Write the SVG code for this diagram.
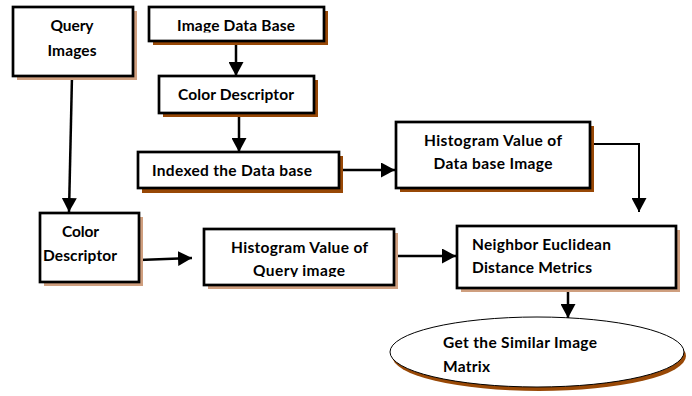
<svg xmlns="http://www.w3.org/2000/svg" width="692" height="396" viewBox="0 0 692 396">
  <defs>
    <marker id="arrow" viewBox="0 0 14 15" refX="14" refY="7.5" markerWidth="14" markerHeight="15" markerUnits="userSpaceOnUse" orient="auto">
      <path d="M0,0 L14,7.5 L0,15 Z" fill="#000"/>
    </marker>
    <clipPath id="clipQueryHist"><rect x="204" y="229" width="190" height="48"/></clipPath>
    <clipPath id="clipImgDb"><rect x="149" y="7" width="175" height="25.5"/></clipPath>
  </defs>
  <style>
    .box { fill: #fff; stroke: #000; stroke-width: 2.7; }
    .sh-tan { fill: #cf9f7f; }
    .sh-brown { fill: #984806; }
    .lbl { font-family: Lato, "Liberation Sans", sans-serif; font-weight: bold; font-size: 15.5px; fill: #000; }
    .mid { text-anchor: middle; }
    .conn { fill: none; stroke: #000; stroke-width: 2.5; marker-end: url(#arrow); }
    .conn-thin { fill: none; stroke: #000; stroke-width: 2; marker-end: url(#arrow); }
  </style>

  <rect width="692" height="396" fill="#fff"/>

  <!-- connectors -->
  <g id="connectors">
    <path class="conn" d="M72,76 L69,212"/>
    <path class="conn" d="M236,41 L236,76"/>
    <path class="conn" d="M239,113 L239,152"/>
    <path class="conn" d="M339,170 L395,170"/>
    <path class="conn-thin" d="M590,144 L639,144 L639,212"/>
    <path class="conn" d="M139,260 L192,258"/>
    <path class="conn" d="M394,256 L456,256"/>
    <path class="conn" d="M568,288 L568,318"/>
  </g>

  <g id="query-images">
    <rect class="sh-tan" x="17" y="11" width="120" height="69"/>
    <rect class="box" x="13" y="7" width="120" height="69"/>
    <text class="lbl mid" x="72" y="31" textLength="43">Query</text>
    <text class="lbl mid" x="72" y="56" textLength="49">Images</text>
  </g>

  <g id="image-data-base">
    <rect class="sh-brown" x="153" y="11" width="175" height="34"/>
    <rect class="box" x="149" y="7" width="175" height="34"/>
    <text class="lbl mid" x="236" y="31" textLength="118" clip-path="url(#clipImgDb)">Image Data Base</text>
  </g>

  <g id="color-descriptor-db">
    <rect class="sh-brown" x="163" y="80" width="155" height="37"/>
    <rect class="box" x="159" y="76" width="155" height="37"/>
    <text class="lbl mid" x="236" y="100" textLength="116">Color Descriptor</text>
  </g>

  <g id="indexed-data-base">
    <rect class="sh-brown" x="142" y="156" width="201" height="37"/>
    <rect class="box" x="138" y="152" width="201" height="36"/>
    <text class="lbl" x="152" y="176" textLength="160">Indexed the Data base</text>
  </g>

  <g id="histogram-db">
    <rect class="sh-brown" x="400" y="126" width="194" height="66"/>
    <rect class="box" x="396" y="122" width="194" height="66"/>
    <text class="lbl mid" x="493" y="146" textLength="138">Histogram Value of</text>
    <text class="lbl mid" x="493" y="169" textLength="119">Data base Image</text>
  </g>

  <g id="color-descriptor-query">
    <rect class="sh-tan" x="44" y="217" width="99" height="69"/>
    <rect class="box" x="40" y="213" width="99" height="69"/>
    <text class="lbl" x="62" y="237" textLength="37">Color</text>
    <text class="lbl" x="43" y="261" textLength="74">Descriptor</text>
  </g>

  <g id="histogram-query">
    <rect class="sh-tan" x="208" y="233" width="190" height="56"/>
    <rect class="box" x="204" y="229" width="190" height="56"/>
    <g clip-path="url(#clipQueryHist)">
      <text class="lbl" x="231" y="253" textLength="137">Histogram Value of</text>
      <text class="lbl" x="253" y="276" textLength="92">Query image</text>
    </g>
  </g>

  <g id="neighbor-distance">
    <rect class="sh-tan" x="461" y="230" width="219" height="62"/>
    <rect class="box" x="457" y="226" width="219" height="62"/>
    <text class="lbl" x="472" y="250" textLength="139">Neighbor Euclidean</text>
    <text class="lbl" x="472" y="273" textLength="120">Distance Metrics</text>
  </g>

  <g id="similar-image-matrix">
    <ellipse cx="539" cy="356" rx="147" ry="35" fill="#984806"/>
    <ellipse cx="537" cy="352" rx="147" ry="35" fill="#fff" stroke="#000" stroke-width="1"/>
    <text class="lbl" x="443" y="348" textLength="154">Get the Similar Image</text>
    <text class="lbl" x="443" y="372" textLength="47">Matrix</text>
  </g>
</svg>
